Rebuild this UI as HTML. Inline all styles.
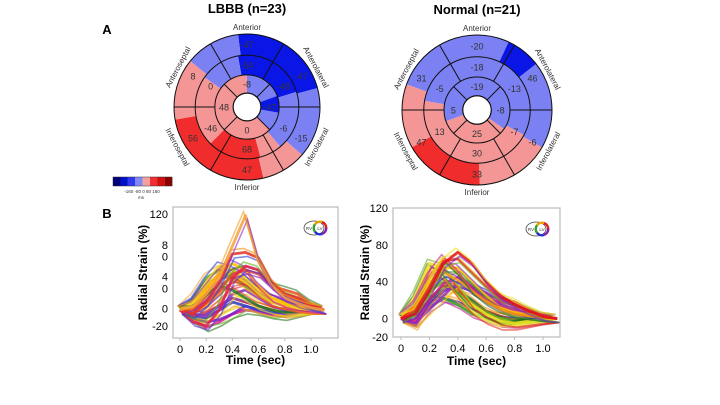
<!DOCTYPE html>
<html><head><meta charset="utf-8"><style>
html,body{margin:0;padding:0;background:#fff;width:720px;height:405px;overflow:hidden}
svg{display:block;font-family:"Liberation Sans",sans-serif}
</style></head><body>
<svg id="fig" width="720" height="405" viewBox="0 0 720 405"></svg>
<script>
// ---------- data ----------
const lbbbOuter=[-47,-47,-15,47,56,8];   // anterior, anterolateral, inferolateral, inferior, inferoseptal, anteroseptal
const lbbbMid=[-54,-48,-6,68,-46,0];
const lbbbApex=[-8,-47,0,48];            // anterior, lateral, inferior, septal
const normOuter=[-20,46,-6,33,47,31];
const normMid=[-18,-13,-7,30,13,-5];
const normApex=[-19,-8,25,5];
const timePoints=[0,0.1,0.2,0.3,0.4,0.5,0.6,0.7,0.8,0.9,1.0,1.1];
const yTicksLeft=["120","8","0","4","0","0","-20"];
const yTickValsLeft=[120,81,67,42,27,2,-20];
const yTicksRight=[120,80,40,0,-20];
const xTicks=[0,0.2,0.4,0.6,0.8,1.0];
const lbbbCurves=[
[0,-12,-22,-15,-5,0,-2,-6,-8,-4,0,0],
[0,-10,-15,-12,-5,5,0,-5,-3,-2,0,0],
[0,-8,-5,5,15,10,5,0,-5,-3,0,0],
[0,-10,-10,0,10,5,0,-3,-2,0,0,0],
[0,-5,-8,0,20,25,15,5,0,0,0,0],
[0,5,20,30,25,15,5,0,-3,-2,0,0],
[0,15,40,50,40,30,20,10,5,2,0,0],
[0,-3,5,20,35,38,28,15,10,5,2,0],
[0,2,15,30,40,35,25,15,8,3,1,0],
[0,8,30,45,45,35,20,10,5,2,0,0],
[0,10,35,55,50,40,25,15,8,3,1,0],
[0,5,25,45,58,50,30,15,8,4,2,0],
[0,0,10,25,45,50,45,30,25,20,8,0],
[0,-15,-20,0,40,55,50,30,18,12,4,0],
[0,-5,10,35,70,72,65,35,20,15,5,0],
[0,5,20,40,80,118,60,30,15,8,3,0]];
const lbbbColors=["#e0208a","#7a1fc0","#5a2ad0","#3040d0","#9030c0","#2a7a20","#60b020","#f08a10","#f0a020","#e8d020","#f0e020","#ffc000","#e04030","#e02050","#e83020","#f5a040"];
const normCurves=[
[0,-5,12,22,18,10,5,2,0,0,0,0],
[0,10,25,22,15,5,0,-5,-6,-4,-2,0],
[0,5,20,35,30,20,8,2,-2,-2,0,0],
[0,8,30,40,28,15,5,0,-5,-3,0,0],
[0,-8,15,30,35,30,25,15,10,5,2,0],
[0,-5,10,25,40,35,28,20,15,8,2,0],
[0,-3,20,38,45,35,20,18,15,8,2,0],
[0,20,55,45,25,8,-2,-8,-8,-5,-2,0],
[0,25,60,55,35,15,5,-3,-5,-3,-1,0],
[0,10,38,50,42,30,20,12,8,5,2,0],
[0,12,40,55,55,40,25,12,6,3,1,0],
[0,15,45,65,50,30,18,10,5,3,1,0],
[0,10,35,62,65,50,35,22,18,10,3,0],
[0,5,30,60,72,60,40,25,15,8,2,0]];
const normColors=["#2030d0","#40a020","#1a6a20","#70b020","#7a1fc0","#9030c0","#c02090","#e8e040","#f0e020","#f0a020","#ffc000","#f08a10","#e83020","#e01020"];
// ---------- helpers ----------
const NS="http://www.w3.org/2000/svg";
const svg=document.getElementById('fig');
function mk(tag,attrs,parent){const e=document.createElementNS(NS,tag);for(const k in attrs)e.setAttribute(k,attrs[k]);(parent||svg).appendChild(e);return e;}
function txt(x,y,s,size,opts,parent){const e=mk('text',Object.assign({x:x,y:y,'font-size':size,'text-anchor':'middle'},opts||{}),parent);e.textContent=s;return e;}
function pt(cx,cy,r,a){const t=a*Math.PI/180;return [cx+r*Math.cos(t),cy-r*Math.sin(t)];}
function sector(cx,cy,r1,r2,a1,a2){
  const p1=pt(cx,cy,r2,a1),p2=pt(cx,cy,r2,a2),p3=pt(cx,cy,r1,a2),p4=pt(cx,cy,r1,a1);
  const lg=(a2-a1)>180?1:0;
  return `M${p1[0]},${p1[1]} A${r2},${r2} 0 ${lg} 0 ${p2[0]},${p2[1]} L${p3[0]},${p3[1]} A${r1},${r1} 0 ${lg} 1 ${p4[0]},${p4[1]} Z`;}
const DB="#0a16e6",LB="#7b80f2",LR="#f49696",RD="#f02c2c";
function bullseye(g,cx,cy,R,arcs,outer,mid,apex,title){
  const r=[R*0.19,R*0.44,R*0.71,R];
  arcs.forEach(a=>{mk('path',{d:sector(cx,cy,r[a[0]]-0.3,r[a[1]]+0.3,a[2],a[3]),fill:a[4],stroke:'none'},g);});
  [r[1],r[2],r[3]].forEach(rr=>mk('circle',{cx:cx,cy:cy,r:rr,fill:'none',stroke:'#111','stroke-width':1},g));
  [0,60,120,180,240,300].forEach(a=>{const p=pt(cx,cy,r[1],a),q=pt(cx,cy,r[3],a);mk('line',{x1:p[0],y1:p[1],x2:q[0],y2:q[1],stroke:'#111','stroke-width':1},g);});
  [45,135,225,315].forEach(a=>{const p=pt(cx,cy,r[0],a),q=pt(cx,cy,r[1],a);mk('line',{x1:p[0],y1:p[1],x2:q[0],y2:q[1],stroke:'#111','stroke-width':1},g);});
  const hole=mk('circle',{cx:cx,cy:cy,r:r[0],fill:'#fff',stroke:'#111','stroke-width':1.2},g);
  
  
  const segAng=[90,30,-30,-90,-150,150];
  outer.forEach((v,i)=>{const p=pt(cx,cy,(r[2]+r[3])/2,segAng[i]);const t=txt(p[0],p[1]+3.5,String(v),9,{fill:'#333'},g);
    
    });
  mid.forEach((v,i)=>{const p=pt(cx,cy,(r[1]+r[2])/2,segAng[i]);const t=txt(p[0],p[1]+3.5,String(v),9,{fill:'#333'},g);
    
    });
  const apAng=[90,0,-90,180];
  apex.forEach((v,i)=>{const p=pt(cx,cy,(r[0]+r[1])/2,apAng[i]);const t=txt(p[0],p[1]+3.5,String(v),9,{fill:'#333'},g);
    
    });
  const tt=txt(cx,cy-R-21,title,13,{'font-weight':'bold',fill:'#000'},g);
  
  
  const labs=[["Anterior",90,0],["Anterolateral",30,62],["Inferolateral",-30,-62],["Inferior",-90,0],["Inferoseptal",-150,62],["Anteroseptal",150,-62]];
  labs.forEach(l=>{const p=pt(cx,cy,R+7,l[1]);const t=txt(p[0],p[1]+3,l[0],8,{fill:'#333',transform:`rotate(${l[2]} ${p[0]} ${p[1]})`},g);
    
    });
}
// ---------- panel A ----------
const tA=txt(107,34,"A",13,{'font-weight':'bold'});


const gL=mk('g',{});


bullseye(gL,247,107,73,[
 [2,3,15,97,DB],[2,3,97,141,LB],[2,3,141,190,LR],[2,3,-170,-77,RD],[2,3,-77,-41,LR],[2,3,-41,15,LB],
 [1,2,17,100,DB],[1,2,100,145,LB],[1,2,145,225,LR],[1,2,-135,-75,RD],[1,2,-75,-50,LR],[1,2,-50,17,LB],
 [0,1,-45,90,LB],[0,1,90,315,LR],[0,1,-10,20,DB]
],lbbbOuter,lbbbMid,lbbbApex,"LBBB (n=23)");
const gR=mk('g',{});


bullseye(gR,477,110,75,[
 [2,3,-30,160,LB],[2,3,160,330,LR],[2,3,-150,-88,RD],[2,3,38,65,DB],
 [1,2,-28,170,LB],[1,2,170,332,LR],
 [0,1,-35,200,LB],[0,1,200,325,LR]
],normOuter,normMid,normApex,"Normal (n=21)");
// colorbar
const cbCols=["#00007a","#0010c8","#3038f0","#8088f4","#f4a0a0","#f03030","#d01010","#8a0000"];
cbCols.forEach((c,i)=>{const r=mk('rect',{x:113+i*7.4,y:177,width:7.5,height:9,fill:c});
  
  });
mk('rect',{x:113,y:177,width:59,height:9,fill:'none',stroke:'#333','stroke-width':0.5});
const cbl=txt(142,193,"-160 -80  0   80  160",4.5,{fill:'#333'});


const cbu=txt(141,199,"ms",4.5,{fill:'#333'});


// ---------- panel B ----------
const tB=txt(107,218,"B",13,{'font-weight':'bold'});


function chart(name,box,x0,x1,ymin,ymax,yTop,yBot,curves,colors,tickLabels,tickVals,yTitleX,xTitleY){
  const g=mk('g',{});
  
  
  const xs=v=>x0+(x1-x0)*v;
  const ys=v=>yBot+(yTop-yBot)*(v-ymin)/(ymax-ymin);
  mk('rect',{x:box[0],y:box[1],width:box[2]-box[0],height:box[3]-box[1],fill:'#fff',stroke:'#bbb','stroke-width':1.2},g);
  curves.forEach((c,i)=>{
    const d=c.map((v,j)=>(j?'L':'M')+xs(timePoints[j]).toFixed(1)+','+ys(v).toFixed(1)).join(' ');
    const p=mk('path',{d:d,fill:'none',stroke:colors[i],'stroke-width':2.8,'stroke-linejoin':'round','stroke-opacity':0.85},g);
    
    
    const p2=mk('path',{d:d,fill:'none',stroke:colors[(i+5)%colors.length],'stroke-width':1.6,'stroke-opacity':0.6,transform:'translate(2,4)'},g);
    
    
    const p3=mk('path',{d:d,fill:'none',stroke:colors[(i+9)%colors.length],'stroke-width':1.6,'stroke-opacity':0.6,transform:'translate(-2,-4)'},g);
    
    
  });
  tickLabels.forEach((l,i)=>{const t=txt(box[0]-5,ys(tickVals[i])+4,String(l),11,{'text-anchor':'end'},g);
    
    });
  xTicks.forEach(v=>{const t=txt(xs(v),box[3]+15,v===0?"0":v.toFixed(1),11,{},g);
    
    
    mk('line',{x1:xs(v),y1:box[3],x2:xs(v),y2:box[3]+3,stroke:'#bbb'},g);});
  const yc=(box[1]+box[3])/2;
  const yt=txt(yTitleX,yc,"Radial Strain (%)",12,{'font-weight':'bold',transform:`rotate(-90 ${yTitleX} ${yc})`},g);
  
  
  const xt=txt((box[0]+box[2])/2,xTitleY,"Time (sec)",12,{'font-weight':'bold'},g);
  
  
  const ix=box[2]-20,iy=box[1]+21;
  const ic=mk('g',{},g);
  
  
  mk('ellipse',{cx:ix-4,cy:iy,rx:10,ry:7,fill:'#fff',stroke:'#444','stroke-width':0.8},ic);
  ['#e02020','#f0a000','#30a030','#2030d0','#8020b0'].forEach((c,k)=>{
    mk('path',{d:sector(ix+2,iy,5,7.5,k*72,k*72+72),fill:c},ic);});
  txt(ix-9,iy+2,"RV",4.5,{fill:'#333'},ic);
  txt(ix+2,iy+2,"LV",4.5,{fill:'#333'},ic);
}
chart('lbbb-strain-chart',[173,207,338,338],180,311,-20,120,214,326,lbbbCurves,lbbbColors,yTicksLeft,yTickValsLeft,147,364);
chart('normal-strain-chart',[393,208,560,337],401,543,-20,120,208,337,normCurves,normColors,yTicksRight.map(String),yTicksRight,369,365);
</script>
</body></html>
